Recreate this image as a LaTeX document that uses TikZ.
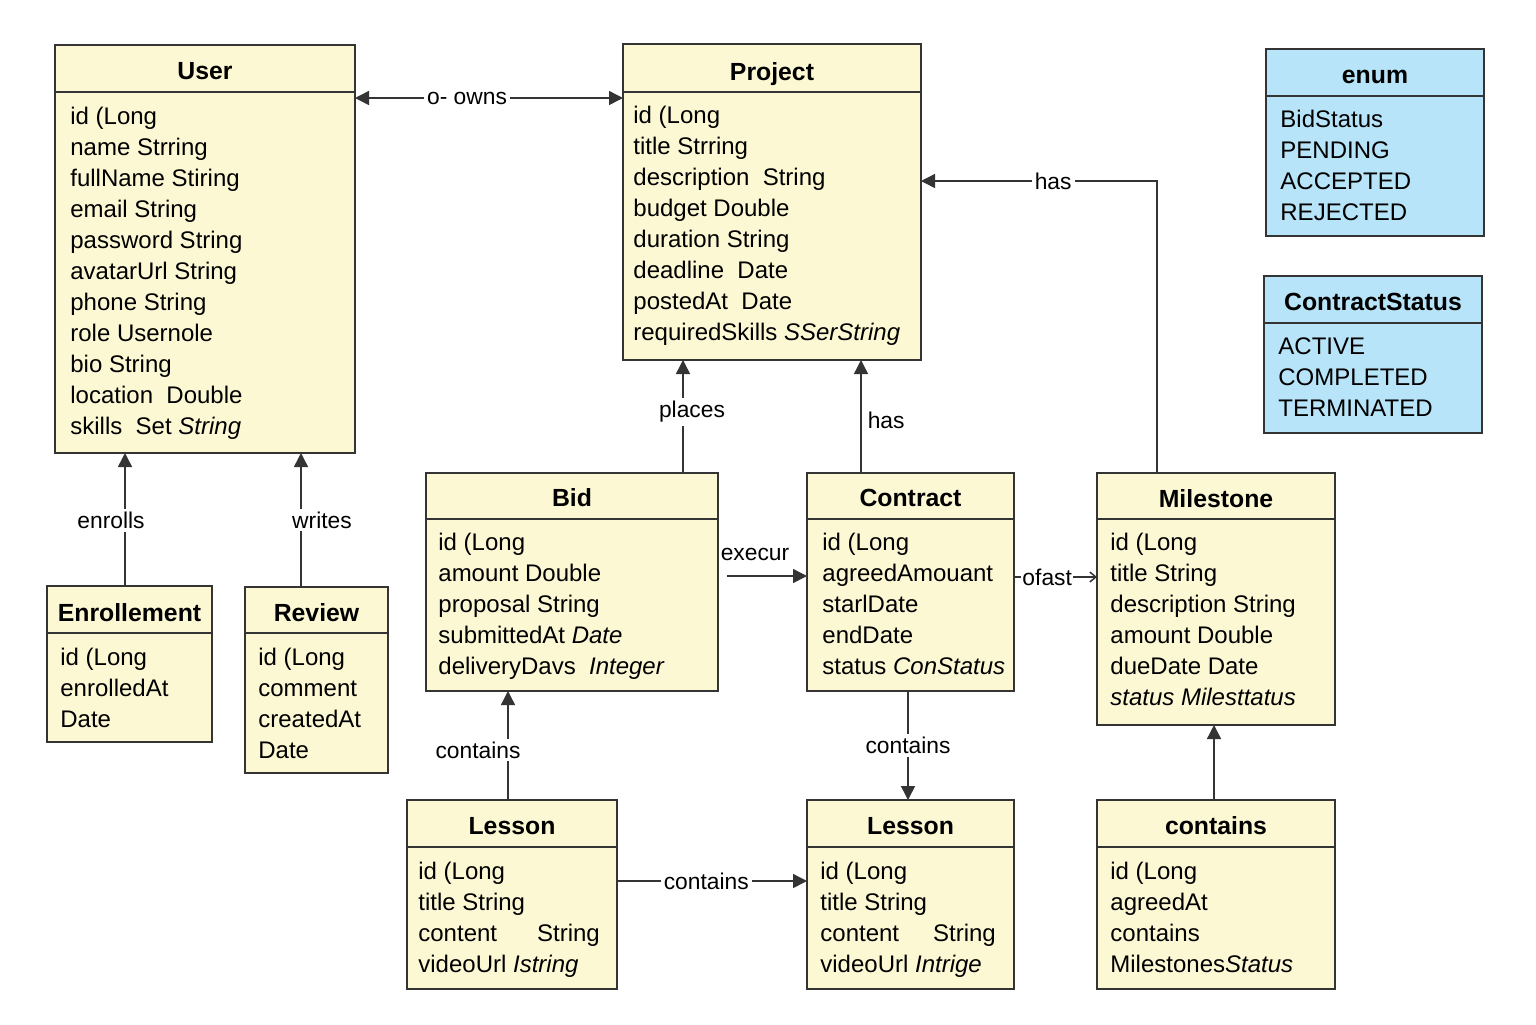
\documentclass[tikz,border=0pt]{standalone}
\usepackage{fontspec}
\setmainfont{Liberation Sans}
\usetikzlibrary{arrows.meta}
\definecolor{cream}{RGB}{253,248,212}
\definecolor{skyb}{RGB}{183,228,248}
\definecolor{ink}{RGB}{52,52,52}

\newcommand\umlclass[9]{%
  \node[box, fill=#9, minimum width={(#4-#2)*0.5pt}, minimum height={(#5-#3)*0.5pt}, anchor=north west] (#1) at (#2,#3) {};
  \draw[hline] (#2,#6) -- (#4,#6);
  \node[ttl] (#1-t) at ({(#2+#4)/2},#7) {#8};
}
\newcommand\attrs[5]{%
  \foreach \tx [count=\i] in {#5} {
    \node[attr] (#1-a\i) at (#2,{#3+(\i-1)*#4}) {\tx};
  }%
}

\begin{document}
\begin{tikzpicture}[x=0.5pt,y=-0.5pt,
  box/.style={draw=ink, line width=1pt, inner sep=0pt, outer sep=0pt},
  hline/.style={draw=ink, line width=1pt},
  ttl/.style={font=\fontsize{12.4}{14}\selectfont\bfseries, anchor=base, inner sep=0pt},
  attr/.style={font=\fontsize{12}{14}\selectfont, anchor=base west, inner sep=0pt},
  lbl/.style={font=\fontsize{11.4}{13}\selectfont, fill=white, inner sep=1.5pt, text=black},
  plainlbl/.style={font=\fontsize{11.4}{13}\selectfont, inner sep=0pt, text=black},
  conn/.style={draw=ink, line width=0.75pt, -{Triangle[length=7pt,width=7pt]}},
]
\fill[white] (0,0) rectangle (1536,1024);
\useasboundingbox (0,0) rectangle (1536,1024);

% ---- classes ----
\umlclass{user}{55}{45}{355}{453}{92}{79}{User}{cream}
\attrs{user}{70}{124}{31}{id (Long,%
  name Strring,%
  fullName Stiring,%
  email String,%
  password String,%
  avatarUrl String,%
  phone String,%
  role Usernole,%
  bio String,%
  location\ \ Double,%
  skills\ \ Set \textit{String}}

\umlclass{project}{623}{44}{921}{360}{92}{80}{Project}{cream}
\attrs{project}{633}{123}{31}{id (Long,%
  title Strring,%
  description\ \ String,%
  budget Double,%
  duration String,%
  deadline\ \ Date,%
  postedAt\ \ Date,%
  requiredSkills \textit{SSerString}}

\umlclass{enum}{1266}{49}{1484}{236}{96}{83}{enum}{skyb}
\attrs{enum}{1280}{127}{31}{BidStatus,%
  PENDING,%
  ACCEPTED,%
  REJECTED}

\umlclass{cstatus}{1264}{276}{1482}{433}{323}{310}{ContractStatus}{skyb}
\attrs{cstatus}{1278}{354}{31}{ACTIVE,%
  COMPLETED,%
  TERMINATED}

\umlclass{bid}{426}{473}{718}{691}{519}{506}{Bid}{cream}
\attrs{bid}{438}{550}{31}{id (Long,%
  amount Double,%
  proposal String,%
  submittedAt \textit{Date},%
  deliveryDavs\ \ \textit{Integer}}

\umlclass{contract}{807}{473}{1014}{691}{519}{506}{Contract}{cream}
\attrs{contract}{822}{550}{31}{id (Long,%
  agreedAmouant,%
  starlDate,%
  endDate,%
  status \textit{ConStatus}}

\umlclass{milestone}{1097}{473}{1335}{725}{519}{507}{Milestone}{cream}
\attrs{milestone}{1110}{550}{31}{id (Long,%
  title String,%
  description String,%
  amount Double,%
  dueDate Date,%
  \textit{status Milesttatus}}

\umlclass{enroll}{47}{586}{212}{742}{633}{621}{Enrollement}{cream}
\attrs{enroll}{60}{665}{31}{id (Long,%
  enrolledAt,%
  Date}

\umlclass{review}{245}{587}{388}{773}{633}{621}{Review}{cream}
\attrs{review}{258}{665}{31}{id (Long,%
  comment,%
  createdAt,%
  Date}

\umlclass{lessona}{407}{800}{617}{989}{847}{834}{Lesson}{cream}
\attrs{lessona}{418}{879}{31}{id (Long,%
  title String,%
  content\hspace{20pt}String,%
  videoUrl \textit{Istring}}

\umlclass{lessonb}{807}{800}{1014}{989}{847}{834}{Lesson}{cream}
\attrs{lessonb}{820}{879}{31}{id (Long,%
  title String,%
  content\hspace{17pt}String,%
  videoUrl \textit{Intrige}}

\umlclass{cont}{1097}{800}{1335}{989}{847}{834}{contains}{cream}
\attrs{cont}{1110}{879}{31}{id (Long,%
  agreedAt,%
  contains,%
  Milestones\textit{Status}}

% ---- routing coordinates ----
\coordinate (cOwns) at (489,98);
\coordinate (cHas) at (1157,181);
\coordinate (cPl) at (683,0);
\coordinate (cHc) at (861,0);
\coordinate (cEn) at (125,0);
\coordinate (cWr) at (301,0);
\coordinate (cEx) at (0,576);
\coordinate (cOf) at (0,577);
\coordinate (cCa) at (508,0);
\coordinate (cCb) at (908,0);
\coordinate (cCc) at (0,881);
\coordinate (cCd) at (1214,0);

% ---- connectors ----
\draw[draw=ink, line width=0.75pt, {Triangle[length=7pt,width=7pt]}-{Triangle[length=7pt,width=7pt]}]
  (user.east |- cOwns) -- node[lbl, pos=0.418]{o- owns} (project.west |- cOwns);
\draw[conn] (milestone.north -| cHas) -- (cHas) -- node[lbl, pos=0.44]{has} (project.east |- cHas);
\draw[conn] (bid.north -| cPl) -- node[lbl, pos=0.54, xshift=4.5pt]{places} (project.south -| cPl);
\draw[conn] (contract.north -| cHc) -- node[plainlbl, pos=0.47, anchor=west, xshift=3pt]{has} (project.south -| cHc);
\draw[conn] (enroll.north -| cEn) -- node[lbl, pos=0.49, xshift=-7pt]{enrolls} (user.south -| cEn);
\draw[conn] (review.north -| cWr) -- node[lbl, pos=0.5, xshift=10.5pt]{writes} (user.south -| cWr);
\draw[conn, shorten <=4.5pt] (bid.east |- cEx) -- node[plainlbl, pos=0.416, yshift=11pt]{execur} (contract.west |- cEx);
\draw[draw=ink, line width=0.75pt, -{Straight Barb[length=3pt,width=5pt]}]
  (contract.east |- cOf) -- node[lbl, inner sep=0.5pt, pos=0.4]{ofast} (milestone.west |- cOf);
\draw[conn] (lessona.north -| cCa) -- node[lbl, pos=0.46, xshift=-15pt]{contains} (bid.south -| cCa);
\draw[conn] (contract.south -| cCb) -- node[lbl, pos=0.5]{contains} (lessonb.north -| cCb);
\draw[conn] (lessona.east |- cCc) -- node[lbl, pos=0.47]{contains} (lessonb.west |- cCc);
\draw[conn] (cont.north -| cCd) -- (milestone.south -| cCd);
\end{tikzpicture}
\end{document}
